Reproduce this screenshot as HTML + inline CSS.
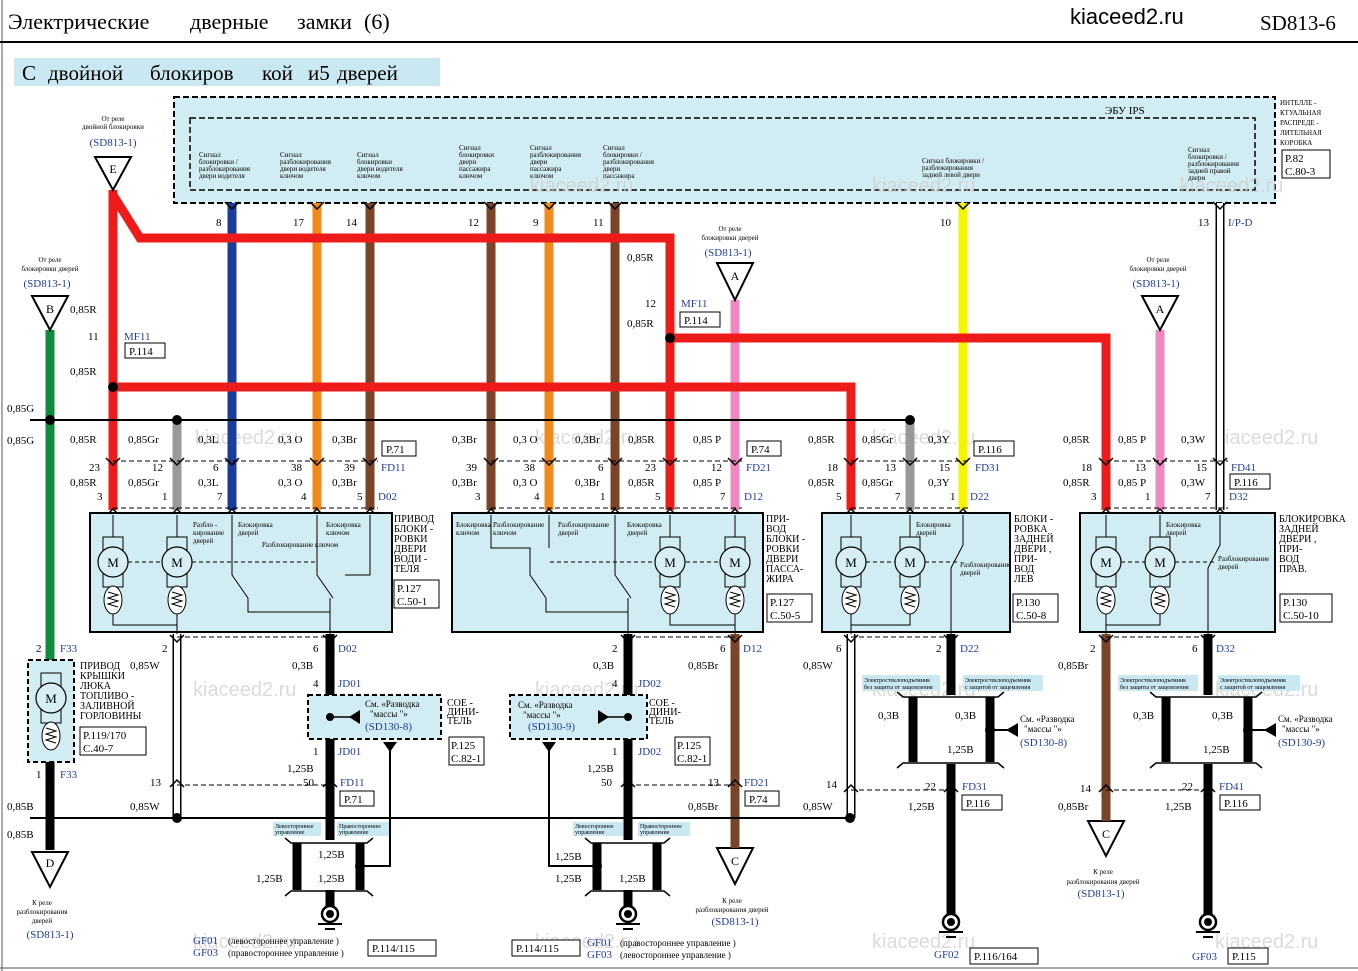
<!DOCTYPE html>
<html><head><meta charset="utf-8"><style>
html,body{margin:0;padding:0;background:#fff}
svg{display:block;font-family:"Liberation Serif","Noto Serif CJK SC",serif}
.s{font-size:11px}
.t{font-size:7px}
.b{fill:#1f3c9c}
</style></head><body>
<svg width="1358" height="971" viewBox="0 0 1358 971" xmlns="http://www.w3.org/2000/svg">
<defs>
<polyline id="dn" points="-7,-5 0,2 7,-5" fill="none" stroke="#000" stroke-width="1.5"/>
<polyline id="up" points="-7,5 0,-2 7,5" fill="none" stroke="#000" stroke-width="1.5"/>
<g id="mot"><rect x="-10" y="-25" width="20" height="50" fill="none" stroke="#000"/><circle r="15" fill="#d7eef5" stroke="#000" stroke-width="1.2"/><text y="5" text-anchor="middle" font-size="13">M</text><ellipse cy="38" rx="9" ry="14" fill="#fff" stroke="#000"/><polyline points="-5,30 5,33 -5,36 5,39 -5,42 5,45" fill="none" stroke="#000"/></g>
</defs>
<rect width="1358" height="971" fill="#fff"/>
<line x1="2" y1="0" x2="2" y2="971" stroke="#555"/>
<!-- header -->
<text x="8" y="29" font-size="22">Электрические</text>
<text x="190" y="29" font-size="22">дверные</text>
<text x="297" y="29" font-size="22">замки</text>
<text x="364" y="29" font-size="22">(6)</text>
<text x="1070" y="24" font-size="22" font-family="Liberation Sans">kiaceed2.ru</text>
<text x="1260" y="30" font-size="21">SD813-6</text>
<line x1="0" y1="42" x2="1358" y2="42" stroke="#000" stroke-width="2"/>
<rect x="14" y="58" width="426" height="28" fill="#c9e8f1"/>
<g font-size="21"><text x="22" y="80">С</text><text x="48" y="80">двойной</text><text x="150" y="80">блокиров</text><text x="262" y="80">кой</text><text x="308" y="80">и5</text><text x="337" y="80">дверей</text></g>
<!-- IPS -->
<rect x="174" y="97" width="1101" height="106" fill="#d2ecf3" stroke="#000" stroke-width="2" stroke-dasharray="6,3"/>
<rect x="190" y="118" width="1065" height="72" fill="none" stroke="#000" stroke-width="1.5" stroke-dasharray="6,3"/>
<text x="1105" y="114" class="s">ЭБУ IPS</text>
<g class="t">
<text x="1280" y="105">ИНТЕЛЛЕ -</text><text x="1280" y="115">КТУАЛЬНАЯ</text><text x="1280" y="125">РАСПРЕДЕ -</text><text x="1280" y="135">ЛИТЕЛЬНАЯ</text><text x="1280" y="145">КОРОБКА</text>
<text x="199" y="157">Сигнал</text><text x="199" y="164">блокировки /</text><text x="199" y="171">разблокирования</text><text x="199" y="178">двери водителя</text>
<text x="280" y="157">Сигнал</text><text x="280" y="164">разблокирования</text><text x="280" y="171">двери водителя</text><text x="280" y="178">ключом</text>
<text x="357" y="157">Сигнал</text><text x="357" y="164">блокировки</text><text x="357" y="171">двери водителя</text><text x="357" y="178">ключом</text>
<text x="459" y="150">Сигнал</text><text x="459" y="157">блокировки</text><text x="459" y="164">двери</text><text x="459" y="171">пассажира</text><text x="459" y="178">ключом</text>
<text x="530" y="150">Сигнал</text><text x="530" y="157">разблокирования</text><text x="530" y="164">двери</text><text x="530" y="171">пассажира</text><text x="530" y="178">ключом</text>
<text x="603" y="150">Сигнал</text><text x="603" y="157">блокировки /</text><text x="603" y="164">разблокирования</text><text x="603" y="171">двери</text><text x="603" y="178">пассажира</text>
<text x="922" y="163">Сигнал  блокировки /</text><text x="922" y="170">разблокирования</text><text x="922" y="177">задней  левой  двери</text>
<text x="1188" y="152">Сигнал</text><text x="1188" y="159">блокировки /</text><text x="1188" y="166">разблокирования</text><text x="1188" y="173">задней  правой</text><text x="1188" y="180">двери</text>
</g>
<rect x="1282" y="150" width="48" height="28" fill="#fff" stroke="#000"/><text x="1285" y="162" class="s">P.82</text><text x="1285" y="175" class="s">C.80-3</text>
<!-- watermarks -->
<g font-family="Liberation Sans" font-size="20" fill="#ccc" opacity="0.7">
<text x="530" y="192">kiaceed2.ru</text><text x="872" y="192">kiaceed2.ru</text><text x="1180" y="192">kiaceed2.ru</text>
<text x="195" y="444">kiaceed2.ru</text><text x="535" y="444">kiaceed2.ru</text><text x="872" y="444">kiaceed2.ru</text><text x="1215" y="444">kiaceed2.ru</text>
<text x="193" y="696">kiaceed2.ru</text><text x="535" y="696">kiaceed2.ru</text><text x="872" y="696">kiaceed2.ru</text><text x="1215" y="696">kiaceed2.ru</text>
<text x="193" y="948">kiaceed2.ru</text><text x="535" y="948">kiaceed2.ru</text><text x="872" y="948">kiaceed2.ru</text><text x="1215" y="948">kiaceed2.ru</text>
</g>
<!-- top wires from IPS -->
<g stroke-width="9" fill="none">
<line x1="232" y1="203" x2="232" y2="510" stroke="#1b3d9a"/>
<line x1="317" y1="203" x2="317" y2="510" stroke="#f08a1c"/>
<line x1="370" y1="203" x2="370" y2="510" stroke="#7a4428"/>
<line x1="491" y1="203" x2="491" y2="510" stroke="#7a4428"/>
<line x1="549" y1="203" x2="549" y2="510" stroke="#f08a1c"/>
<line x1="615" y1="203" x2="615" y2="510" stroke="#7a4428"/>
<line x1="963" y1="203" x2="963" y2="510" stroke="#f5f500"/>
<line x1="177" y1="420" x2="177" y2="510" stroke="#999"/>
<line x1="910" y1="420" x2="910" y2="510" stroke="#999"/>
<line x1="735" y1="300" x2="735" y2="510" stroke="#ee88c0"/>
<line x1="1160" y1="330" x2="1160" y2="510" stroke="#ee88c0"/>
<polyline points="113,190 113,510" stroke="#ee1b1b"/>
<polyline points="113,195 140,238 670,238 670,510" stroke="#ee1b1b"/>
<polyline points="670,338 1106,338 1106,510" stroke="#ee1b1b"/>
<polyline points="113,387 851,387 851,510" stroke="#ee1b1b"/>
<line x1="50" y1="330" x2="50" y2="660" stroke="#118a3c"/>
<line x1="50" y1="762" x2="50" y2="850" stroke="#000"/>
</g>
<line x1="1220" y1="203" x2="1220" y2="510" stroke="#000" stroke-width="9"/><line x1="1220" y1="203" x2="1220" y2="510" stroke="#fff" stroke-width="6"/>
<line x1="30" y1="420" x2="910" y2="420" stroke="#000" stroke-width="2"/>
<circle cx="50" cy="420" r="5"/><circle cx="177" cy="420" r="5"/><circle cx="910" cy="420" r="5"/>
<circle cx="113" cy="387" r="5"/><circle cx="670" cy="338" r="5"/>
<g>
<use href="#dn" x="232" y="207"/><use href="#dn" x="317" y="207"/><use href="#dn" x="370" y="207"/><use href="#dn" x="491" y="207"/><use href="#dn" x="549" y="207"/><use href="#dn" x="615" y="207"/><use href="#dn" x="963" y="207"/><use href="#dn" x="1220" y="207"/>
</g>
<g class="s">
<text x="216" y="226">8</text><text x="293" y="226">17</text><text x="346" y="226">14</text><text x="468" y="226">12</text><text x="533" y="226">9</text><text x="593" y="226">11</text><text x="940" y="226">10</text><text x="1198" y="226">13</text>
<text x="1228" y="226" class="b">I/P-D</text>
<text x="627" y="261">0,85R</text><text x="627" y="327">0,85R</text>
<text x="645" y="307">12</text><text x="681" y="307" class="b">MF11</text>
<rect x="680" y="312" width="40" height="15" fill="#fff" stroke="#000"/><text x="684" y="324">P.114</text>
<text x="88" y="340">11</text><text x="124" y="340" class="b">MF11</text>
<rect x="125" y="343" width="40" height="15" fill="#fff" stroke="#000"/><text x="129" y="355">P.114</text>
<text x="70" y="313">0,85R</text><text x="70" y="375">0,85R</text>
<text x="7" y="412">0,85G</text><text x="7" y="444">0,85G</text>
</g>
<g fill="#fff" stroke="#000" stroke-width="2">
<polygon points="95,157 131,157 113,190"/>
<polygon points="32,296 68,296 50,330"/>
<polygon points="717,263 753,263 735,300"/>
<polygon points="1142,296 1178,296 1160,330"/>
<polygon points="32,852 68,852 50,887"/>
<polygon points="717,848 753,848 735,884"/>
<polygon points="1088,821 1124,821 1106,856"/>
</g>
<g font-size="12" text-anchor="middle">
<text x="113" y="173">E</text><text x="50" y="313">B</text><text x="735" y="280">A</text><text x="1160" y="313">A</text><text x="50" y="867">D</text><text x="735" y="865">C</text><text x="1106" y="838">C</text>
</g>
<g class="t" text-anchor="middle">
<text x="113" y="121">От реле</text><text x="113" y="129">двойной  блокировки</text><text x="113" y="146" class="s b">(SD813-1)</text>
<text x="50" y="262">От реле</text><text x="50" y="271">блокировки  дверей</text><text x="47" y="287" class="s b">(SD813-1)</text>
<text x="730" y="231">От реле</text><text x="730" y="240">блокировки  дверей</text><text x="728" y="256" class="s b">(SD813-1)</text>
<text x="1158" y="262">От реле</text><text x="1158" y="271">блокировки  дверей</text><text x="1156" y="287" class="s b">(SD813-1)</text>
<text x="42" y="905">К реле</text><text x="42" y="914">разблокирования</text><text x="42" y="923">дверей</text><text x="50" y="938" class="s b">(SD813-1)</text>
<text x="732" y="903">К реле</text><text x="732" y="912">разблокирования  дверей</text><text x="735" y="925" class="s b">(SD813-1)</text>
<text x="1103" y="874">К реле</text><text x="1103" y="884">разблокирования  дверей</text><text x="1101" y="897" class="s b">(SD813-1)</text>
</g>
<g stroke="#000" stroke-dasharray="5,3" stroke-width="1">
<line x1="113" y1="461" x2="378" y2="461"/><line x1="113" y1="508" x2="378" y2="508"/>
<line x1="491" y1="461" x2="742" y2="461"/><line x1="491" y1="508" x2="742" y2="508"/>
<line x1="851" y1="461" x2="970" y2="461"/><line x1="851" y1="508" x2="970" y2="508"/>
<line x1="1106" y1="461" x2="1228" y2="461"/><line x1="1106" y1="508" x2="1228" y2="508"/>
</g>
<g>
<use href="#dn" x="113" y="463"/><use href="#dn" x="177" y="463"/><use href="#dn" x="232" y="463"/><use href="#dn" x="317" y="463"/><use href="#dn" x="370" y="463"/>
<use href="#dn" x="491" y="463"/><use href="#dn" x="549" y="463"/><use href="#dn" x="615" y="463"/><use href="#dn" x="670" y="463"/><use href="#dn" x="735" y="463"/>
<use href="#dn" x="851" y="463"/><use href="#dn" x="910" y="463"/><use href="#dn" x="963" y="463"/>
<use href="#dn" x="1106" y="463"/><use href="#dn" x="1160" y="463"/><use href="#dn" x="1220" y="463"/>
<use href="#up" x="113" y="511"/><use href="#up" x="177" y="511"/><use href="#up" x="232" y="511"/><use href="#up" x="317" y="511"/><use href="#up" x="370" y="511"/>
<use href="#up" x="491" y="511"/><use href="#up" x="549" y="511"/><use href="#up" x="615" y="511"/><use href="#up" x="670" y="511"/><use href="#up" x="735" y="511"/>
<use href="#up" x="851" y="511"/><use href="#up" x="910" y="511"/><use href="#up" x="963" y="511"/>
<use href="#up" x="1106" y="511"/><use href="#up" x="1160" y="511"/><use href="#up" x="1220" y="511"/>
</g>
<g class="s">
<text x="70" y="443">0,85R</text><text x="128" y="443">0,85Gr</text><text x="198" y="443">0,3L</text><text x="278" y="443">0,3 O</text><text x="332" y="443">0,3Br</text>
<text x="89" y="471">23</text><text x="152" y="471">12</text><text x="213" y="471">6</text><text x="291" y="471">38</text><text x="344" y="471">39</text><text x="381" y="471" class="b">FD11</text>
<text x="70" y="486">0,85R</text><text x="128" y="486">0,85Gr</text><text x="198" y="486">0,3L</text><text x="278" y="486">0,3 O</text><text x="332" y="486">0,3Br</text>
<text x="97" y="500">3</text><text x="162" y="500">1</text><text x="217" y="500">7</text><text x="301" y="500">4</text><text x="357" y="500">5</text><text x="378" y="500" class="b">D02</text>
<rect x="382" y="441" width="34" height="15" fill="#fff" stroke="#000"/><text x="386" y="453">P.71</text>
<text x="452" y="443">0,3Br</text><text x="513" y="443">0,3 O</text><text x="575" y="443">0,3Br</text><text x="628" y="443">0,85R</text><text x="693" y="443">0,85 P</text>
<text x="466" y="471">39</text><text x="524" y="471">38</text><text x="598" y="471">6</text><text x="645" y="471">23</text><text x="711" y="471">12</text><text x="746" y="471" class="b">FD21</text>
<text x="452" y="486">0,3Br</text><text x="513" y="486">0,3 O</text><text x="575" y="486">0,3Br</text><text x="628" y="486">0,85R</text><text x="693" y="486">0,85 P</text>
<text x="475" y="500">3</text><text x="534" y="500">4</text><text x="600" y="500">1</text><text x="655" y="500">5</text><text x="720" y="500">7</text><text x="744" y="500" class="b">D12</text>
<rect x="747" y="441" width="34" height="15" fill="#fff" stroke="#000"/><text x="751" y="453">P.74</text>
<text x="808" y="443">0,85R</text><text x="862" y="443">0,85Gr</text><text x="928" y="443">0,3Y</text>
<text x="827" y="471">18</text><text x="885" y="471">13</text><text x="939" y="471">15</text><text x="975" y="471" class="b">FD31</text>
<text x="808" y="486">0,85R</text><text x="862" y="486">0,85Gr</text><text x="928" y="486">0,3Y</text>
<text x="836" y="500">5</text><text x="895" y="500">7</text><text x="950" y="500">1</text><text x="970" y="500" class="b">D22</text>
<rect x="974" y="441" width="40" height="15" fill="#fff" stroke="#000"/><text x="978" y="453">P.116</text>
<text x="1063" y="443">0,85R</text><text x="1118" y="443">0,85 P</text><text x="1181" y="443">0,3W</text>
<text x="1081" y="471">18</text><text x="1135" y="471">13</text><text x="1196" y="471">15</text><text x="1231" y="471" class="b">FD41</text>
<text x="1063" y="486">0,85R</text><text x="1118" y="486">0,85 P</text><text x="1181" y="486">0,3W</text>
<text x="1091" y="500">3</text><text x="1145" y="500">1</text><text x="1205" y="500">7</text><text x="1229" y="500" class="b">D32</text>
<rect x="1230" y="474" width="40" height="15" fill="#fff" stroke="#000"/><text x="1234" y="486">P.116</text>
</g>
<g fill="#d2ecf3" stroke="#000" stroke-width="2">
<rect x="90" y="513" width="302" height="119"/>
<rect x="452" y="513" width="311" height="119"/>
<rect x="822" y="513" width="188" height="119"/>
<rect x="1080" y="513" width="195" height="119"/>
</g>
<g>
<use href="#mot" x="113" y="562"/><use href="#mot" x="177" y="562"/>
<use href="#mot" x="670" y="562"/><use href="#mot" x="735" y="562"/>
<use href="#mot" x="851" y="562"/><use href="#mot" x="910" y="562"/>
<use href="#mot" x="1106" y="562"/><use href="#mot" x="1160" y="562"/>
</g>
<g stroke="#000" fill="none" stroke-width="1">
<path d="M113,515 V537 M177,515 V537 M670,515 V537 M735,515 V537 M851,515 V537 M910,515 V537 M1106,515 V537 M1160,515 V537"/>
<path d="M113,614 V625 H177 V614 M177,625 V640"/>
<path d="M232,515 V575 L248,598 M317,515 V575 L333,598 M370,515 V575 H345 M248,598 V612 H330 V598 M330,612 V640"/>
<path d="M491,515 V548 H530 V575 L546,598 M615,515 V575 L631,598 M549,515 V548 M546,598 V612 H628 V598 M628,612 V640"/>
<path d="M670,614 V625 H735 V614 M735,625 V640"/>
<path d="M963,515 V545 L951,568 M951,568 V640 M851,614 V640 M910,614 V625 H851"/>
<path d="M1220,515 V545 L1208,568 M1208,568 V640 M1106,614 V640 M1160,614 V625 H1106"/>
<path d="M128,562 H162 M192,562 H317" stroke-dasharray="4,3"/>
<path d="M550,562 H655 M686,562 H720" stroke-dasharray="4,3"/>
<path d="M866,562 H895 M925,562 H960" stroke-dasharray="4,3"/>
<path d="M1121,562 H1145 M1175,562 H1215" stroke-dasharray="4,3"/>
</g>
<g class="t">
<text x="193" y="527">Разбло -</text><text x="193" y="535">кирование</text><text x="193" y="543">дверей</text>
<text x="238" y="527">Блокировка</text><text x="238" y="535">дверей</text><text x="262" y="547">Разблокирование ключом</text>
<text x="326" y="527">Блокировка</text><text x="326" y="535">ключом</text>
<text x="456" y="527">Блокировка</text><text x="456" y="535">ключом</text><text x="493" y="527">Разблокирование</text><text x="493" y="535">ключом</text>
<text x="558" y="527">Разблокирование</text><text x="558" y="535">дверей</text><text x="627" y="527">Блокировка</text><text x="627" y="535">дверей</text>
<text x="916" y="527">Блокировка</text><text x="916" y="535">дверей</text><text x="960" y="567">Разблокирование</text><text x="960" y="575">дверей</text>
<text x="1166" y="527">Блокировка</text><text x="1166" y="535">дверей</text><text x="1218" y="561">Разблокирование</text><text x="1218" y="569">дверей</text>
</g>
<g font-size="10">
<text x="394" y="522">ПРИВОД</text><text x="394" y="532">БЛОКИ -</text><text x="394" y="542">РОВКИ</text><text x="394" y="552">ДВЕРИ</text><text x="394" y="562">ВОДИ -</text><text x="394" y="572">ТЕЛЯ</text>
<text x="766" y="522">ПРИ-</text><text x="766" y="532">ВОД</text><text x="766" y="542">БЛОКИ -</text><text x="766" y="552">РОВКИ</text><text x="766" y="562">ДВЕРИ</text><text x="766" y="572">ПАССА-</text><text x="766" y="582">ЖИРА</text>
<text x="1014" y="522">БЛОКИ -</text><text x="1014" y="532">РОВКА</text><text x="1014" y="542">ЗАДНЕЙ</text><text x="1014" y="552">ДВЕРИ ,</text><text x="1014" y="562">ПРИ-</text><text x="1014" y="572">ВОД</text><text x="1014" y="582">ЛЕВ</text>
<text x="1279" y="522">БЛОКИРОВКА</text><text x="1279" y="532">ЗАДНЕЙ</text><text x="1279" y="542">ДВЕРИ ,</text><text x="1279" y="552">ПРИ-</text><text x="1279" y="562">ВОД</text><text x="1279" y="572">ПРАВ.</text>
</g>
<g class="s">
<rect x="394" y="580" width="45" height="28" fill="#fff" stroke="#000"/><text x="397" y="592">P.127</text><text x="397" y="605">C.50-1</text>
<rect x="767" y="594" width="45" height="28" fill="#fff" stroke="#000"/><text x="770" y="606">P.127</text><text x="770" y="619">C.50-5</text>
<rect x="1013" y="594" width="45" height="28" fill="#fff" stroke="#000"/><text x="1016" y="606">P.130</text><text x="1016" y="619">C.50-8</text>
<rect x="1280" y="594" width="52" height="28" fill="#fff" stroke="#000"/><text x="1283" y="606">P.130</text><text x="1283" y="619">C.50-10</text>
</g>
<!-- bottom wires -->
<g stroke-width="9" fill="none" stroke="#000">
<line x1="330" y1="634" x2="330" y2="840"/><line x1="330" y1="890" x2="330" y2="906"/>
<line x1="628" y1="634" x2="628" y2="840"/><line x1="628" y1="890" x2="628" y2="906"/>
<line x1="735" y1="634" x2="735" y2="848" stroke="#7a4428"/>
<line x1="1106" y1="634" x2="1106" y2="821" stroke="#7a4428"/>
<line x1="951" y1="634" x2="951" y2="695"/><line x1="951" y1="764" x2="951" y2="914"/>
<line x1="1208" y1="634" x2="1208" y2="695"/><line x1="1208" y1="764" x2="1208" y2="914"/>
<line x1="913" y1="697" x2="913" y2="762"/><line x1="990" y1="697" x2="990" y2="762"/>
<line x1="1166" y1="697" x2="1166" y2="762"/><line x1="1248" y1="697" x2="1248" y2="762"/>
<line x1="297" y1="843" x2="297" y2="890"/><line x1="360" y1="843" x2="360" y2="890"/>
<line x1="597" y1="843" x2="597" y2="890"/><line x1="657" y1="843" x2="657" y2="890"/>
</g>
<g stroke="#000" stroke-width="1.5" fill="none">
<path d="M897,692 L903,697 H998 L1004,692 M897,768 L903,763 H998 L1004,768"/>
<path d="M1150,692 L1156,697 H1256 L1262,692 M1150,768 L1156,763 H1256 L1262,768"/>
<path d="M285,838 L291,843 H367 L373,838 M285,896 L291,891 H367 L373,896"/>
<path d="M585,838 L591,843 H664 L670,838 M585,896 L591,891 H664 L670,896"/>
</g>
<g stroke="#000" stroke-width="9"><line x1="177" y1="634" x2="177" y2="818"/><line x1="851" y1="634" x2="851" y2="818"/></g>
<g stroke="#fff" stroke-width="6"><line x1="177" y1="634" x2="177" y2="818"/><line x1="851" y1="634" x2="851" y2="818"/></g>
<g stroke="#000" fill="none" stroke-width="2">
<path d="M390,748 V866 H360"/><path d="M549,748 V866 H597"/>
<path d="M990,730 H1008"/><path d="M1248,730 H1266"/>
</g>
<polygon points="383,742 397,742 390,752"/><polygon points="542,742 556,742 549,752"/>
<polygon points="1018,723 1018,737 1006,730"/><polygon points="1276,723 1276,737 1264,730"/>
<circle cx="360" cy="866" r="5"/><circle cx="597" cy="866" r="5"/><circle cx="990" cy="730" r="5"/><circle cx="1248" cy="730" r="5"/>
<line x1="30" y1="818" x2="850" y2="818" stroke="#000" stroke-width="2"/>
<circle cx="177" cy="818" r="5"/><circle cx="850" cy="818" r="5"/>
<g stroke="#000" stroke-dasharray="5,3">
<line x1="177" y1="637" x2="330" y2="637"/><line x1="628" y1="637" x2="735" y2="637"/><line x1="851" y1="637" x2="951" y2="637"/><line x1="1106" y1="637" x2="1208" y2="637"/>
<line x1="177" y1="785" x2="330" y2="785"/><line x1="628" y1="785" x2="735" y2="785"/><line x1="851" y1="790" x2="951" y2="790"/><line x1="1106" y1="790" x2="1208" y2="790"/>
</g>
<g>
<use href="#dn" x="177" y="640"/><use href="#dn" x="330" y="640"/><use href="#dn" x="628" y="640"/><use href="#dn" x="735" y="640"/><use href="#dn" x="851" y="640"/><use href="#dn" x="951" y="640"/><use href="#dn" x="1106" y="640"/><use href="#dn" x="1208" y="640"/>
<use href="#up" x="177" y="782"/><use href="#up" x="330" y="782"/><use href="#up" x="628" y="782"/><use href="#up" x="735" y="782"/><use href="#up" x="851" y="787"/><use href="#up" x="951" y="787"/><use href="#up" x="1106" y="787"/><use href="#up" x="1208" y="787"/>
</g>
<!-- JD boxes -->
<rect x="308" y="695" width="133" height="44" fill="#d2ecf3" stroke="#000" stroke-width="2" stroke-dasharray="5,3"/>
<rect x="510" y="695" width="137" height="44" fill="#d2ecf3" stroke="#000" stroke-width="2" stroke-dasharray="5,3"/>
<path d="M330,717 H352 M628,717 H606" stroke="#000" stroke-width="1.5"/>
<polygon points="360,710 360,724 349,717"/><polygon points="598,710 598,724 609,717"/>
<circle cx="330" cy="717" r="4"/><circle cx="628" cy="717" r="4"/>
<g class="s">
<text x="365" y="707" font-size="9">См. «Разводка</text><text x="370" y="717" font-size="9">"массы "»</text><text x="365" y="730" class="b">(SD130-8)</text>
<text x="518" y="708" font-size="9">См. «Разводка</text><text x="523" y="718" font-size="9">"массы "»</text><text x="528" y="730" class="b">(SD130-9)</text>
<text x="447" y="706" font-size="10">СОЕ -</text><text x="447" y="715" font-size="10">ДИНИ-</text><text x="447" y="724" font-size="10">ТЕЛЬ</text>
<text x="649" y="706" font-size="10">СОЕ -</text><text x="649" y="715" font-size="10">ДИНИ-</text><text x="649" y="724" font-size="10">ТЕЛЬ</text>
<rect x="449" y="737" width="35" height="28" fill="#fff" stroke="#000"/><text x="451" y="749">P.125</text><text x="451" y="762">C.82-1</text>
<rect x="675" y="737" width="35" height="28" fill="#fff" stroke="#000"/><text x="677" y="749">P.125</text><text x="677" y="762">C.82-1</text>
<text x="162" y="652">2</text><text x="130" y="669">0,85W</text><text x="313" y="652">6</text><text x="338" y="652" class="b">D02</text>
<text x="292" y="669">0,3B</text><text x="313" y="687">4</text><text x="338" y="687" class="b">JD01</text>
<text x="313" y="755">1</text><text x="338" y="755" class="b">JD01</text><text x="287" y="772">1,25B</text>
<text x="303" y="786">50</text><text x="340" y="786" class="b">FD11</text>
<rect x="340" y="791" width="34" height="15" fill="#fff" stroke="#000"/><text x="344" y="803">P.71</text>
<text x="150" y="786">13</text><text x="130" y="810">0,85W</text>
<text x="612" y="652">2</text><text x="593" y="669">0,3B</text><text x="612" y="687">4</text><text x="638" y="687" class="b">JD02</text>
<text x="612" y="755">1</text><text x="638" y="755" class="b">JD02</text><text x="587" y="772">1,25B</text><text x="601" y="786">50</text>
<text x="720" y="652">6</text><text x="743" y="652" class="b">D12</text><text x="688" y="669">0,85Br</text>
<text x="708" y="786">13</text><text x="744" y="786" class="b">FD21</text>
<rect x="745" y="791" width="34" height="15" fill="#fff" stroke="#000"/><text x="749" y="803">P.74</text><text x="688" y="810">0,85Br</text>
<text x="836" y="652">6</text><text x="803" y="669">0,85W</text><text x="826" y="788">14</text><text x="803" y="810">0,85W</text>
<text x="936" y="652">2</text><text x="960" y="652" class="b">D22</text><text x="878" y="719">0,3B</text><text x="955" y="719">0,3B</text><text x="947" y="753">1,25B</text>
<text x="925" y="790">22</text><text x="962" y="790" class="b">FD31</text>
<rect x="962" y="795" width="40" height="15" fill="#fff" stroke="#000"/><text x="966" y="807">P.116</text><text x="908" y="810">1,25B</text>
<text x="1090" y="652">2</text><text x="1058" y="669">0,85Br</text><text x="1192" y="652">6</text><text x="1216" y="652" class="b">D32</text>
<text x="1133" y="719">0,3B</text><text x="1212" y="719">0,3B</text><text x="1203" y="753">1,25B</text>
<text x="1080" y="792">14</text><text x="1058" y="810">0,85Br</text>
<text x="1182" y="790">22</text><text x="1219" y="790" class="b">FD41</text>
<rect x="1220" y="795" width="40" height="15" fill="#fff" stroke="#000"/><text x="1224" y="807">P.116</text><text x="1165" y="810">1,25B</text>
<text x="1020" y="722" font-size="9">См. «Разводка</text><text x="1024" y="732" font-size="9">"массы "»</text><text x="1020" y="746" class="b">(SD130-8)</text>
<text x="1278" y="722" font-size="9">См. «Разводка</text><text x="1282" y="732" font-size="9">"массы "»</text><text x="1278" y="746" class="b">(SD130-9)</text>
<text x="318" y="858">1,25B</text><text x="256" y="882">1,25B</text><text x="318" y="882">1,25B</text>
<text x="555" y="860">1,25B</text><text x="555" y="882">1,25B</text><text x="619" y="882">1,25B</text>
</g>
<g fill="#c9e8f1">
<rect x="273" y="822" width="48" height="14"/><rect x="337" y="822" width="52" height="14"/>
<rect x="573" y="822" width="50" height="14"/><rect x="638" y="822" width="52" height="14"/>
<rect x="862" y="675" width="78" height="16"/><rect x="963" y="675" width="80" height="16"/>
<rect x="1118" y="675" width="80" height="16"/><rect x="1218" y="675" width="82" height="16"/>
</g>
<g font-size="6">
<text x="275" y="828">Левостороннее</text><text x="275" y="834">управление</text>
<text x="339" y="828">Правостороннее</text><text x="339" y="834">управление</text>
<text x="575" y="828">Левостороннее</text><text x="575" y="834">управление</text>
<text x="640" y="828">Правостороннее</text><text x="640" y="834">управление</text>
<text x="864" y="682">Электростеклоподъемник</text><text x="864" y="689">без защиты от защемления</text>
<text x="965" y="682">Электростеклоподъемник</text><text x="965" y="689">с защитой от защемления</text>
<text x="1120" y="682">Электростеклоподъемник</text><text x="1120" y="689">без защиты от защемления</text>
<text x="1220" y="682">Электростеклоподъемник</text><text x="1220" y="689">с защитой от защемления</text>
</g>
<rect x="28" y="660" width="46" height="102" fill="#d2ecf3" stroke="#000" stroke-width="2" stroke-dasharray="5,3"/>
<use href="#mot" x="51" y="698"/>
<g class="s">
<text x="36" y="652">2</text><text x="60" y="652" class="b">F33</text><text x="36" y="778">1</text><text x="60" y="778" class="b">F33</text>
<text x="7" y="810">0,85B</text><text x="7" y="838">0,85B</text>
<rect x="80" y="727" width="66" height="28" fill="#fff" stroke="#000"/><text x="83" y="739">P.119/170</text><text x="83" y="752">C.40-7</text>
</g>
<g font-size="10"><text x="80" y="669">ПРИВОД</text><text x="80" y="679">КРЫШКИ</text><text x="80" y="689">ЛЮКА</text><text x="80" y="699">ТОПЛИВО -</text><text x="80" y="709">ЗАЛИВНОЙ</text><text x="80" y="719">ГОРЛОВИНЫ</text></g>
<g stroke="#000" stroke-width="2.5" fill="#fff">
<circle cx="330" cy="914" r="8"/><circle cx="628" cy="914" r="8"/><circle cx="951" cy="922" r="8"/><circle cx="1208" cy="922" r="8"/>
</g>
<g fill="#000"><circle cx="330" cy="914" r="4"/><circle cx="628" cy="914" r="4"/><circle cx="951" cy="922" r="4"/><circle cx="1208" cy="922" r="4"/></g>
<path d="M318,924 H342 M325,929 H335 M616,924 H640 M623,929 H633 M939,932 H963 M946,937 H956 M1196,932 H1220 M1203,937 H1213" stroke="#000" stroke-width="2"/>
<g class="s">
<text x="193" y="944" class="b">GF01</text><text x="193" y="956" class="b">GF03</text>
<text x="228" y="944" font-size="9">(левостороннее   управление  )</text><text x="228" y="956" font-size="9">(правостороннее   управление  )</text>
<rect x="368" y="940" width="68" height="16" fill="#fff" stroke="#000"/><text x="372" y="952">P.114/115</text>
<rect x="512" y="940" width="68" height="16" fill="#fff" stroke="#000"/><text x="516" y="952">P.114/115</text>
<text x="587" y="946" class="b">GF01</text><text x="587" y="958" class="b">GF03</text>
<text x="620" y="946" font-size="9">(правостороннее   управление  )</text><text x="620" y="958" font-size="9">(левостороннее   управление  )</text>
<text x="934" y="958" class="b">GF02</text>
<rect x="970" y="948" width="68" height="16" fill="#fff" stroke="#000"/><text x="974" y="960">P.116/164</text>
<text x="1192" y="960" class="b">GF03</text>
<rect x="1228" y="948" width="40" height="16" fill="#fff" stroke="#000"/><text x="1232" y="960">P.115</text>
</g>
<line x1="0" y1="968" x2="1358" y2="968" stroke="#555"/>
</svg>
</body></html>
